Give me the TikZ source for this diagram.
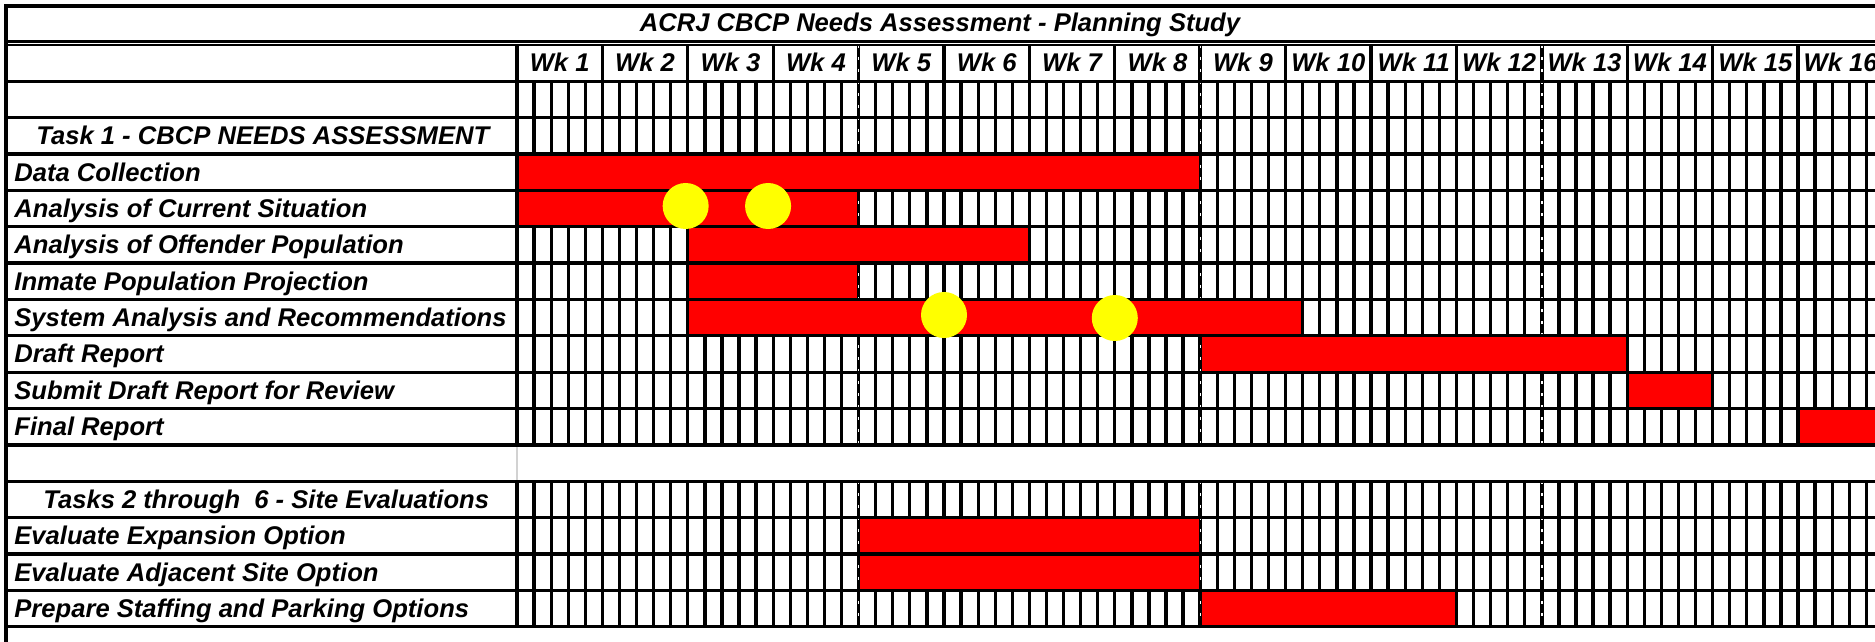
\documentclass[tikz,border=0pt]{standalone}
\usepackage{fontspec}
\setmainfont{Liberation Sans}
\definecolor{barred}{RGB}{255,0,0}
\definecolor{dotyellow}{RGB}{255,255,0}
\begin{document}
\begin{tikzpicture}[x=0.5pt, y=-0.5pt,
        rowlabel/.style={anchor=base west, inner sep=0pt, font=\fontsize{12.8}{15}\selectfont\bfseries\itshape},
        weeklabel/.style={anchor=base, inner sep=0pt, font=\fontsize{12.8}{15}\selectfont\bfseries\itshape},
        gridline/.style={line width=1.65pt},
        weekbreak/.style={line width=1.75pt, postaction={draw=white, line width=0.7pt, dash pattern=on 1.5pt off 4.5pt}},
        taskbar/.style={fill=barred},
        milestone/.style={circle, fill=dotyellow, minimum size=23pt, inner sep=0pt}
    ]
        \useasboundingbox (0,0) rectangle (1875,642);
        \fill[white] (0,0) rectangle (1875,642);

        % Day columns
        \foreach \w in {0,...,15}
            \foreach \d in {1,...,4} {
                \draw[gridline] ({517+85.4*\w+17.08*\d},80.4) -- ({517+85.4*\w+17.08*\d},444.4);
                \draw[gridline] ({517+85.4*\w+17.08*\d},480.8) -- ({517+85.4*\w+17.08*\d},626.4);
            }

        % Week columns
        \foreach \w in {0,1,2,3,5,6,7,9,10,11,13,14,15} {
            \draw[gridline] ({517+85.4*\w},45) -- ({517+85.4*\w},444.4);
            \draw[gridline] ({517+85.4*\w},480.8) -- ({517+85.4*\w},626.4);
        }
        \foreach \w in {4,8,12} {
            \draw[weekbreak] ({517+85.4*\w},45) -- ({517+85.4*\w},444.4);
            \draw[weekbreak] ({517+85.4*\w},480.8) -- ({517+85.4*\w},626.4);
        }
        \draw[gray!35, line width=0.8pt] (517,444.4) -- (517,480.8);

        % Task bars
        \foreach \r/\s/\e in {4/0/8, 5/0/4, 6/2/6, 7/2/4, 8/2/9.2, 9/8/13, 10/13/14, 11/15/15.95, 14/4/8, 15/4/8, 16/8/11}
            \fill[taskbar] ({517+85.4*\s+1.6},{45+36.35*(\r-1)}) rectangle ({517+85.4*\e-1.6},{45+36.35*\r});

        % Row lines
        \draw[gridline] (6,642) -- (6,6) -- (1875,6);
        \draw[gridline] (6,41.5) -- (1875,41.5);
        \draw[line width=1pt] (6,45) -- (1875,45);
        \foreach \r in {1,...,16}
            \draw[gridline] (6,{45+36.35*\r}) -- (1875,{45+36.35*\r});

        % Milestones
        \node[milestone] (ms1) at ({517+85.4*1.975},206) {};
        \node[milestone] (ms2) at ({517+85.4*2.94},206) {};
        \node[milestone] (ms3) at ({517+85.4*5},315) {};
        \node[milestone] (ms4) at ({517+85.4*7},318) {};

        % Title and weeks
        \node[weeklabel] (title) at (940,32) {ACRJ CBCP Needs Assessment - Planning Study};
        \foreach \w in {1,...,16}
            \node[weeklabel] (wk\w) at ({517+85.4*(\w-0.5)},72) {Wk \w};

        % Task labels
        \foreach \r/\x/\name/\txt in {
                3/36/task1/Task 1 - CBCP NEEDS ASSESSMENT,
                4/14/datacoll/Data Collection,
                5/14/current/Analysis of Current Situation,
                6/14/offender/Analysis of Offender Population,
                7/14/inmate/Inmate Population Projection,
                8/14/system/System Analysis and Recommendations,
                9/14/draft/Draft Report,
                10/14/submit/Submit Draft Report for Review,
                11/14/final/Final Report,
                13/43/tasks2/Tasks 2 through~~6 - Site Evaluations,
                14/14/expansion/Evaluate Expansion Option,
                15/14/adjacent/Evaluate Adjacent Site Option,
                16/14/staffing/Prepare Staffing and Parking Options}
            \node[rowlabel] (\name) at (\x,{45+36.35*(\r-0.5)+9}) {\txt};
    \end{tikzpicture}
\end{document}
